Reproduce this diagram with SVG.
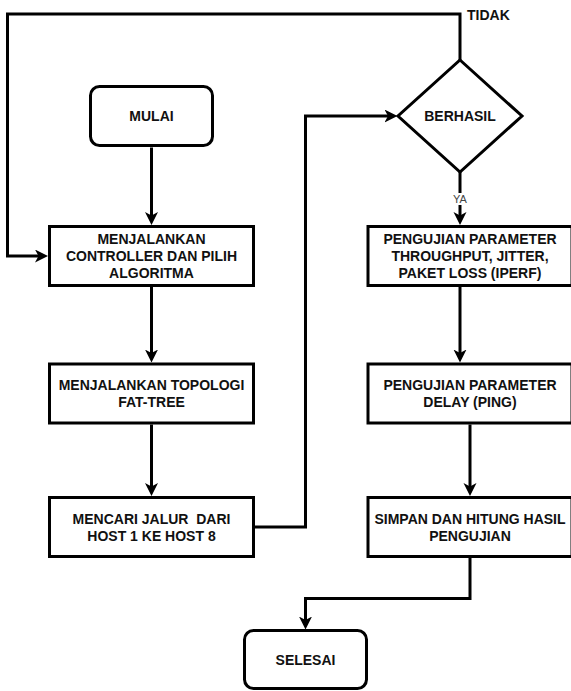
<svg xmlns="http://www.w3.org/2000/svg" width="571" height="691" viewBox="0 0 571 691">
<style>
.box{fill:#fff;stroke:#000;stroke-width:3}
.t{font-family:"Liberation Sans",Arial,sans-serif;font-weight:bold;font-size:14px;fill:#111;text-anchor:middle}
.edge{fill:none;stroke:#000;stroke-width:3}
.lbl{font-family:"Liberation Sans",Arial,sans-serif;font-size:11px;fill:#444;text-anchor:middle}
</style>
<defs>
<marker id="arr" markerUnits="userSpaceOnUse" markerWidth="14" markerHeight="14" refX="7" refY="6.5" orient="auto">
<path d="M0,0 L13,6.5 L0,13 L3.5,6.5 Z" fill="#000"/>
</marker>
</defs>
<rect width="571" height="691" fill="#fff"/>
<g id="connectors">
<path class="edge" d="M151.5,147.5 V219" marker-end="url(#arr)"/>
<path class="edge" d="M151.5,287 V356.5" marker-end="url(#arr)"/>
<path class="edge" d="M151.5,424.5 V490" marker-end="url(#arr)"/>
<path class="edge" d="M254.5,527 H305.5 V116 H391.5" marker-end="url(#arr)"/>
<path class="edge" d="M460,60 V14 H7.5 V256 H42" marker-end="url(#arr)"/>
<path class="edge" d="M460,172 V219" marker-end="url(#arr)"/>
<path class="edge" d="M460,287 V356.5" marker-end="url(#arr)"/>
<path class="edge" d="M470,424.5 V490" marker-end="url(#arr)"/>
<path class="edge" d="M470,558 V598.5 H305.5 V623.5" marker-end="url(#arr)"/>
<rect x="451" y="193" width="18" height="12" fill="#fff"/>
<text class="lbl" x="460" y="203">YA</text>
<text class="t" x="467" y="19.5" style="text-anchor:start">TIDAK</text>
</g>
<g id="mulai">
<rect class="box" x="90.5" y="86.5" width="122" height="59" rx="9"/>
<text class="t" x="151.5" y="121">MULAI</text>
</g>
<g id="menjalankan-controller">
<rect class="box" x="49.5" y="226.5" width="204" height="59"/>
<text class="t" x="151.5" y="243.5">MENJALANKAN</text>
<text class="t" x="151.5" y="260.5">CONTROLLER DAN PILIH</text>
<text class="t" x="151.5" y="277.5">ALGORITMA</text>
</g>
<g id="menjalankan-topologi">
<rect class="box" x="49.5" y="364" width="204" height="59"/>
<text class="t" x="151.5" y="390">MENJALANKAN TOPOLOGI</text>
<text class="t" x="151.5" y="407">FAT-TREE</text>
</g>
<g id="mencari-jalur">
<rect class="box" x="49.5" y="497.5" width="204" height="59"/>
<text class="t" x="151.5" y="523.5" style="white-space:pre">MENCARI JALUR  DARI</text>
<text class="t" x="151.5" y="540.5">HOST 1 KE HOST 8</text>
</g>
<g id="berhasil">
<polygon class="box" points="460,60 522,116 460,172 398,116"/>
<text class="t" x="460" y="121">BERHASIL</text>
</g>
<g id="pengujian-iperf">
<rect class="box" x="368" y="226.5" width="204" height="59"/>
<text class="t" x="470" y="243.5">PENGUJIAN PARAMETER</text>
<text class="t" x="470" y="260.5">THROUGHPUT, JITTER,</text>
<text class="t" x="470" y="277.5">PAKET LOSS (IPERF)</text>
</g>
<g id="pengujian-ping">
<rect class="box" x="368" y="364" width="204" height="59"/>
<text class="t" x="470" y="390">PENGUJIAN PARAMETER</text>
<text class="t" x="470" y="407">DELAY (PING)</text>
</g>
<g id="simpan">
<rect class="box" x="368" y="497.5" width="204" height="59"/>
<text class="t" x="470" y="523.5">SIMPAN DAN HITUNG HASIL</text>
<text class="t" x="470" y="540.5">PENGUJIAN</text>
</g>
<g id="selesai">
<rect class="box" x="244.5" y="630.5" width="122" height="58" rx="9"/>
<text class="t" x="305.5" y="665">SELESAI</text>
</g>
</svg>
